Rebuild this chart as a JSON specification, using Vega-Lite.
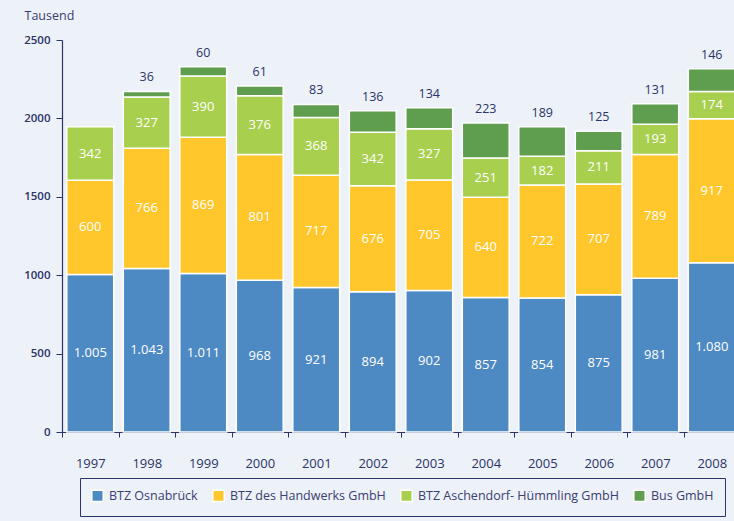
{
  "$schema": "https://vega.github.io/schema/vega-lite/v6.json",
  "width": 678,
  "height": 392,
  "autosize": {"type": "none"},
  "padding": {"left": 62, "top": 40, "right": 0, "bottom": 89},
  "background": "#edf1f8",
  "config": {
    "font": "Open Sans",
    "view": {"stroke": null},
    "locale": {"number": {"decimal": ",", "thousands": ".", "grouping": [3], "currency": ["", " €"]}}
  },
  "data": {
    "values": [
      {"year": "1997", "series": "BTZ Osnabrück", "k": 1, "value": 1005},
      {"year": "1997", "series": "BTZ des Handwerks GmbH", "k": 2, "value": 600},
      {"year": "1997", "series": "BTZ Aschendorf- Hümmling GmbH", "k": 3, "value": 342},
      {"year": "1998", "series": "BTZ Osnabrück", "k": 1, "value": 1043},
      {"year": "1998", "series": "BTZ des Handwerks GmbH", "k": 2, "value": 766},
      {"year": "1998", "series": "BTZ Aschendorf- Hümmling GmbH", "k": 3, "value": 327},
      {"year": "1998", "series": "Bus GmbH", "k": 4, "value": 36},
      {"year": "1999", "series": "BTZ Osnabrück", "k": 1, "value": 1011},
      {"year": "1999", "series": "BTZ des Handwerks GmbH", "k": 2, "value": 869},
      {"year": "1999", "series": "BTZ Aschendorf- Hümmling GmbH", "k": 3, "value": 390},
      {"year": "1999", "series": "Bus GmbH", "k": 4, "value": 60},
      {"year": "2000", "series": "BTZ Osnabrück", "k": 1, "value": 968},
      {"year": "2000", "series": "BTZ des Handwerks GmbH", "k": 2, "value": 801},
      {"year": "2000", "series": "BTZ Aschendorf- Hümmling GmbH", "k": 3, "value": 376},
      {"year": "2000", "series": "Bus GmbH", "k": 4, "value": 61},
      {"year": "2001", "series": "BTZ Osnabrück", "k": 1, "value": 921},
      {"year": "2001", "series": "BTZ des Handwerks GmbH", "k": 2, "value": 717},
      {"year": "2001", "series": "BTZ Aschendorf- Hümmling GmbH", "k": 3, "value": 368},
      {"year": "2001", "series": "Bus GmbH", "k": 4, "value": 83},
      {"year": "2002", "series": "BTZ Osnabrück", "k": 1, "value": 894},
      {"year": "2002", "series": "BTZ des Handwerks GmbH", "k": 2, "value": 676},
      {"year": "2002", "series": "BTZ Aschendorf- Hümmling GmbH", "k": 3, "value": 342},
      {"year": "2002", "series": "Bus GmbH", "k": 4, "value": 136},
      {"year": "2003", "series": "BTZ Osnabrück", "k": 1, "value": 902},
      {"year": "2003", "series": "BTZ des Handwerks GmbH", "k": 2, "value": 705},
      {"year": "2003", "series": "BTZ Aschendorf- Hümmling GmbH", "k": 3, "value": 327},
      {"year": "2003", "series": "Bus GmbH", "k": 4, "value": 134},
      {"year": "2004", "series": "BTZ Osnabrück", "k": 1, "value": 857},
      {"year": "2004", "series": "BTZ des Handwerks GmbH", "k": 2, "value": 640},
      {"year": "2004", "series": "BTZ Aschendorf- Hümmling GmbH", "k": 3, "value": 251},
      {"year": "2004", "series": "Bus GmbH", "k": 4, "value": 223},
      {"year": "2005", "series": "BTZ Osnabrück", "k": 1, "value": 854},
      {"year": "2005", "series": "BTZ des Handwerks GmbH", "k": 2, "value": 722},
      {"year": "2005", "series": "BTZ Aschendorf- Hümmling GmbH", "k": 3, "value": 182},
      {"year": "2005", "series": "Bus GmbH", "k": 4, "value": 189},
      {"year": "2006", "series": "BTZ Osnabrück", "k": 1, "value": 875},
      {"year": "2006", "series": "BTZ des Handwerks GmbH", "k": 2, "value": 707},
      {"year": "2006", "series": "BTZ Aschendorf- Hümmling GmbH", "k": 3, "value": 211},
      {"year": "2006", "series": "Bus GmbH", "k": 4, "value": 125},
      {"year": "2007", "series": "BTZ Osnabrück", "k": 1, "value": 981},
      {"year": "2007", "series": "BTZ des Handwerks GmbH", "k": 2, "value": 789},
      {"year": "2007", "series": "BTZ Aschendorf- Hümmling GmbH", "k": 3, "value": 193},
      {"year": "2007", "series": "Bus GmbH", "k": 4, "value": 131},
      {"year": "2008", "series": "BTZ Osnabrück", "k": 1, "value": 1080},
      {"year": "2008", "series": "BTZ des Handwerks GmbH", "k": 2, "value": 917},
      {"year": "2008", "series": "BTZ Aschendorf- Hümmling GmbH", "k": 3, "value": 174},
      {"year": "2008", "series": "Bus GmbH", "k": 4, "value": 146}
    ]
  },
  "transform": [
    {"stack": "value", "groupby": ["year"], "sort": [{"field": "k", "order": "ascending"}], "as": ["v0", "v1"]},
    {"calculate": "(datum.v0 + datum.v1) / 2", "as": "mid"}
  ],
  "encoding": {
    "x": {
      "field": "year", "type": "nominal", "sort": null,
      "scale": {"paddingInner": 0, "paddingOuter": 0},
      "axis": {
        "title": null, "labelAngle": 0, "tickBand": "extent", "tickSize": 5,
        "domainColor": "#2b3467", "tickColor": "#2b3467", "labelColor": "#2b3467",
        "labelFontSize": 13, "labelFontWeight": 500, "labelPadding": 20, "domainWidth": 1.2
      }
    }
  },
  "layer": [
    {
      "mark": {"type": "bar", "width": {"band": 0.83}, "stroke": "white", "strokeWidth": 1.5},
      "encoding": {
        "y": {
          "field": "v1", "type": "quantitative",
          "scale": {"domain": [0, 2500], "nice": false},
          "axis": {
            "values": [0, 500, 1000, 1500, 2000, 2500], "format": "d", "grid": false,
            "tickSize": 6, "labelPadding": 6, "labelFontSize": 11.5, "labelFontWeight": 600,
            "domainColor": "#2b3467", "tickColor": "#2b3467", "labelColor": "#2b3467", "domainWidth": 1.2,
            "title": "Tausend", "titleAngle": 0, "titleX": -38, "titleY": -25, "titleAlign": "left",
            "titleBaseline": "middle", "titleFontSize": 12.5, "titleFontWeight": "normal", "titleColor": "#3a4070"
          }
        },
        "y2": {"field": "v0"},
        "color": {
          "field": "series", "type": "nominal",
          "scale": {
            "domain": ["BTZ Osnabrück", "BTZ des Handwerks GmbH", "BTZ Aschendorf- Hümmling GmbH", "Bus GmbH"],
            "range": ["#4d89c3", "#ffc72c", "#a8cf4e", "#5f9e4f"]
          },
          "legend": {
            "title": null, "orient": "none", "direction": "horizontal", "legendX": 18, "legendY": 438,
            "strokeColor": "#2b3467", "padding": 11, "columnPadding": 11,
            "symbolType": "square", "symbolSize": 130, "symbolStrokeColor": "white", "symbolStrokeWidth": 1.5,
            "symbolOpacity": 1, "labelFontSize": 12.5, "labelColor": "#3a4070", "labelOffset": 5, "labelLimit": 300
          }
        }
      }
    },
    {
      "transform": [{"filter": "datum.k < 4"}],
      "mark": {"type": "text", "color": "white", "fontSize": 13, "baseline": "middle"},
      "encoding": {
        "y": {"field": "mid", "type": "quantitative"},
        "text": {"field": "value", "type": "quantitative", "format": ","}
      }
    },
    {
      "transform": [{"filter": "datum.k == 4"}],
      "mark": {"type": "text", "color": "#2b3467", "fontSize": 12.5, "fontWeight": 500, "baseline": "middle", "dy": -14},
      "encoding": {
        "y": {"field": "v1", "type": "quantitative"},
        "text": {"field": "value", "type": "quantitative", "format": ","}
      }
    }
  ]
}
